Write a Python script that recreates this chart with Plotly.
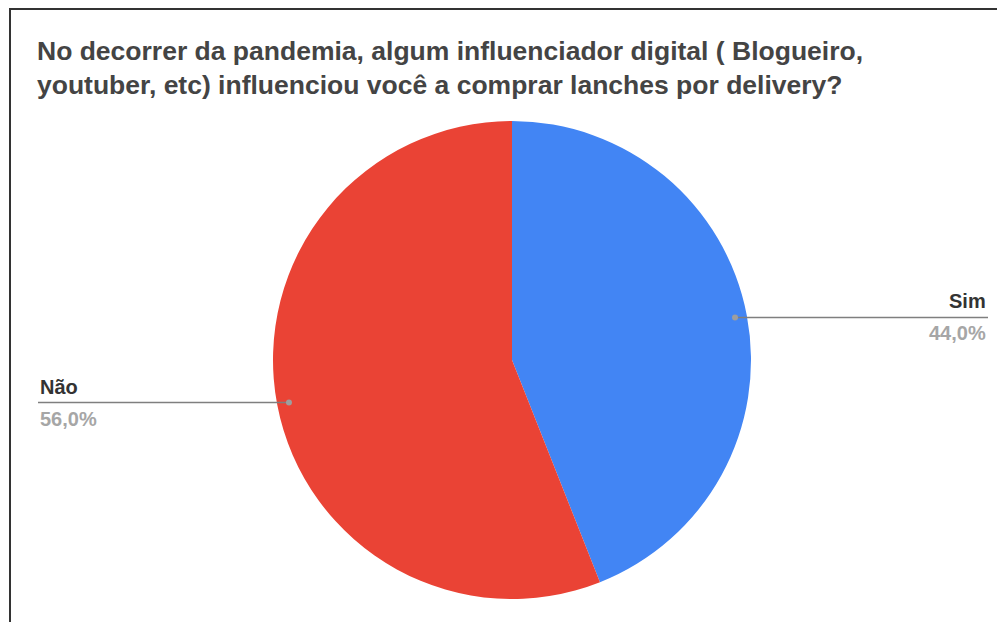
import math
import plotly.graph_objects as go

# Données
labels = ["Sim", "Não"]
values = [44.0, 56.0]
value_text = ["44,0%", "56,0%"]
colors = ["#4285F4", "#EA4335"]
title_text = ("No decorrer da pandemia, algum influenciador digital ( Blogueiro,<br>"
              "youtuber, etc) influenciou você a comprar lanches por delivery?")

W, H = 1005, 622
OFF = 8  # marge par défaut du <body> de la page
cx, cy, r = 512, 360, 239  # centre et rayon du camembert (px, page)


def px(x):
    return (x - OFF) / W


def py(y):
    return 1 - (y - OFF) / H


fig = go.Figure(go.Pie(
    labels=labels,
    values=values,
    marker=dict(colors=colors, line=dict(width=0)),
    sort=False,
    direction="clockwise",
    rotation=0,
    textinfo="none",
    domain=dict(x=[px(cx - r), px(cx + r)], y=[py(cy + r), py(cy - r)]),
    hovertemplate="%{label}: %{value:.1f}%<extra></extra>",
))

# Lignes de rappel et étiquettes
total = sum(values)
cum = 0
shapes = []
annotations = []
for lab, v, txt in zip(labels, values, value_text):
    mid = (cum + v / 2) / total * 2 * math.pi
    cum += v
    dx = cx + 0.95 * r * math.sin(mid)
    dy = cy - 0.95 * r * math.cos(mid)
    right = dx > cx
    x_end = 988 if right else 38
    shapes.append(dict(type="line", xref="paper", yref="paper",
                       x0=px(dx), x1=px(x_end), y0=py(dy), y1=py(dy),
                       line=dict(color="#7f7f7f", width=1.5)))
    shapes.append(dict(type="circle", xref="paper", yref="paper",
                       x0=px(dx - 3), x1=px(dx + 3), y0=py(dy + 3), y1=py(dy - 3),
                       fillcolor="#9e9e9e", line=dict(width=0)))
    anchor = "right" if right else "left"
    annotations.append(dict(x=px(x_end), y=py(dy - 3), xref="paper", yref="paper",
                            xanchor=anchor, yanchor="bottom", showarrow=False,
                            text=f"<b>{lab}</b>", font=dict(size=20, color="#333333")))
    annotations.append(dict(x=px(x_end), y=py(dy + 3), xref="paper", yref="paper",
                            xanchor=anchor, yanchor="top", showarrow=False,
                            text=f"<b>{txt}</b>", font=dict(size=20, color="#a6a6a6")))

# Titre
annotations.append(dict(x=px(35), y=py(34), xref="paper", yref="paper",
                        xanchor="left", yanchor="top", align="left", showarrow=False,
                        text=f"<b>{title_text}</b>",
                        font=dict(size=26.5, color="#444444")))

# Cadre
shapes.append(dict(type="rect", xref="paper", yref="paper",
                   x0=px(10), x1=1.05, y0=-0.05, y1=py(9),
                   line=dict(color="#333333", width=2)))

fig.update_layout(
    width=W, height=H,
    margin=dict(l=0, r=0, t=0, b=0),
    font=dict(family="Arial, Liberation Sans, sans-serif"),
    paper_bgcolor="white",
    plot_bgcolor="white",
    showlegend=False,
    shapes=shapes,
    annotations=annotations,
)

fig.write_html("out.html")
